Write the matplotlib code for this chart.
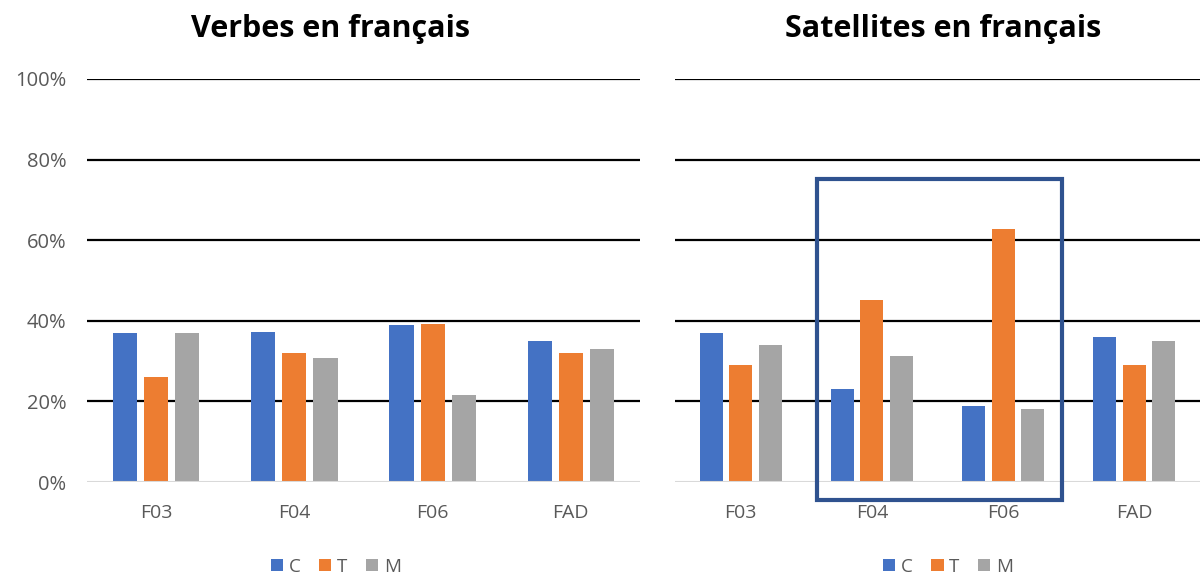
import numpy as np
import matplotlib.pyplot as plt
from matplotlib.patches import Rectangle

# Data
categories = ['F03', 'F04', 'F06', 'FAD']
series = ['C', 'T', 'M']
verbes_C = [0.37, 0.372, 0.39, 0.35]
verbes_T = [0.26, 0.32, 0.392, 0.32]
verbes_M = [0.37, 0.308, 0.215, 0.33]
sat_C = [0.37, 0.232, 0.19, 0.36]
sat_T = [0.29, 0.452, 0.627, 0.29]
sat_M = [0.34, 0.313, 0.182, 0.35]
yticks = [0, 0.2, 0.4, 0.6, 0.8, 1.0]
ytick_labels = ['0%', '20%', '40%', '60%', '80%', '100%']

colors = ['#4472C4', '#ED7D31', '#A5A5A5']
plt.rcParams['font.family'] = ['Open Sans', 'DejaVu Sans']

fig = plt.figure(figsize=(12, 5.76), dpi=100)
ax1 = fig.add_axes([0.0725, 0.163, 0.4608, 0.7])
ax2 = fig.add_axes([0.5625, 0.163, 0.4375, 0.7])

x = np.arange(len(categories))
width = 0.175
step = 0.225


def draw(ax, data, title, show_y, title_x, leg_x):
    for i, (vals, name) in enumerate(zip(data, series)):
        ax.bar(x + (i - 1) * step, vals, width, color=colors[i], label=name,
               zorder=3)
    ax.set_xlim(-0.5, 3.5)
    ax.set_ylim(0, 1)
    ax.set_yticks(yticks)
    for t in yticks[1:]:
        ax.axhline(t, color='black', linewidth=1.6, zorder=1)
    ax.axhline(0, color='#D9D9D9', linewidth=1.5, zorder=4)
    for s in ax.spines.values():
        s.set_visible(False)
    ax.set_xticks(x)
    ax.set_xticklabels(categories, fontsize=14, color='#595959')
    if show_y:
        ax.set_yticklabels(ytick_labels, fontsize=14.5, color='#595959')
    else:
        ax.set_yticklabels([])
    ax.tick_params(axis='x', length=0, pad=16)
    ax.tick_params(axis='y', length=0, pad=15)
    ax.set_title(title, fontsize=22, fontweight='bold', pad=30, x=title_x)
    ax.legend(loc='center', bbox_to_anchor=(leg_x, -0.21), ncol=3,
              frameon=False, fontsize=13.5, handlelength=0.65,
              handleheight=0.65, handletextpad=0.3, columnspacing=1.0,
              labelcolor='#595959')


draw(ax1, [verbes_C, verbes_T, verbes_M], 'Verbes en français', True,
     0.441, 0.45)
draw(ax2, [sat_C, sat_T, sat_M], 'Satellites en français', False,
     0.51, 0.52)

# highlight box around F04 and F06
box = Rectangle((1 - 0.415, -0.045), 1.86, 0.797, fill=False,
                edgecolor='#2F528F', linewidth=3, clip_on=False, zorder=5)
ax2.add_patch(box)

plt.savefig('out.png', dpi=100)
